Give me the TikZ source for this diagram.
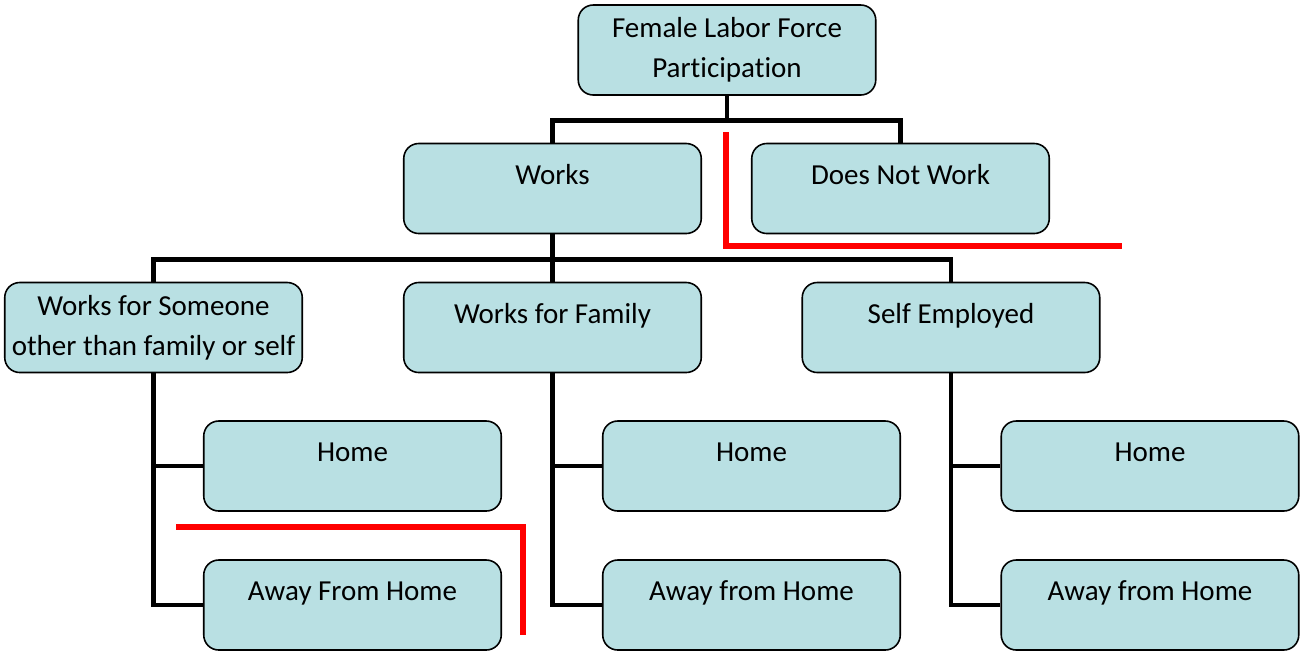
\documentclass[tikz,border=0pt]{standalone}
\usepackage{fontspec}
\setmainfont{Carlito}[Ligatures={NoCommon}]
\usetikzlibrary{positioning}

\definecolor{boxfill}{RGB}{185,224,227}

\begin{document}
\begin{tikzpicture}[
    box/.style={draw, rounded corners=0.3cm, fill=boxfill, line width=0.9pt,
        minimum width=5.95cm, minimum height=1.8cm, inner sep=0pt, align=center,
        font=\fontsize{16.5}{23}\selectfont},
    oneline/.style={text height=12pt, text depth=17pt},
    link/.style={line width=2.8pt},
    redline/.style={red, line width=3.3pt}
]
    \useasboundingbox (0,0) rectangle (26,-13.04);

    % Objects
    \node[box] (top) at (14.54,-1.0) {Female Labor Force\\Participation};
    \node[box, oneline] (works) at (11.05,-3.77) {Works};
    \node[box, oneline] (notwork) at (18.01,-3.77) {Does Not Work};

    \node[box] (someone) at (3.07,-6.55) {Works for Someone\\other than family or self};
    \node[box, oneline] (family) at (11.05,-6.55) {Works for Family};
    \node[box, oneline] (self) at (19.02,-6.55) {Self Employed};

    \node[box, oneline] (home1) at (7.05,-9.32) {Home};
    \node[box, oneline] (away1) at (7.05,-12.1) {Away From Home};
    \node[box, oneline] (home2) at (15.03,-9.32) {Home};
    \node[box, oneline] (away2) at (15.03,-12.1) {Away from Home};
    \node[box, oneline] (home3) at (23.0,-9.32) {Home};
    \node[box, oneline] (away3) at (23.0,-12.1) {Away from Home};

    % Links
    \draw[link] (top.south) -- ++(0,-0.5) -| (works.north);
    \draw[link] (top.south) -- ++(0,-0.5) -| (notwork.north);

    \draw[link] (works.south) -- ++(0,-0.5) -| (someone.north);
    \draw[link] (works.south) -- ++(0,-0.5) -| (family.north);
    \draw[link] (works.south) -- ++(0,-0.5) -| (self.north);

    \draw[link] (someone.south) |- (home1.west);
    \draw[link] (someone.south) |- (away1.west);
    \draw[link] (family.south) |- (home2.west);
    \draw[link] (family.south) |- (away2.west);
    \draw[link] (self.south) |- (home3.west);
    \draw[link] (self.south) |- (away3.west);

    % Red marks
    \coordinate (r1) at (14.52,-2.64);
    \coordinate (r2) at (14.52,-4.92);
    \coordinate (r3) at (22.44,-4.92);
    \coordinate (r4) at (3.52,-10.54);
    \coordinate (r5) at (10.46,-10.54);
    \coordinate (r6) at (10.46,-12.7);
    \draw[redline] (r1) -- (r2) -- (r3);
    \draw[redline] (r4) -- (r5) -- (r6);
\end{tikzpicture}
\end{document}
